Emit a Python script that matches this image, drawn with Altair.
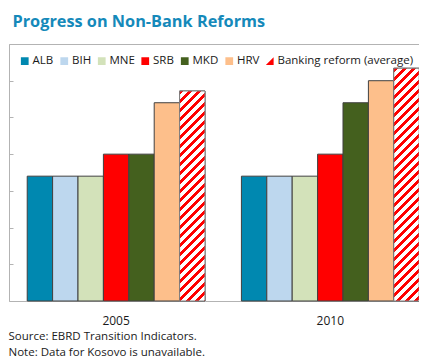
import altair as alt
import pandas as pd

years = ["2005", "2010"]
countries = ["ALB", "BIH", "MNE", "SRB", "MKD", "HRV", "Banking reform (average)"]
values_2005 = [1.7, 1.7, 1.7, 2.0, 2.0, 2.7, 2.86]
values_2010 = [1.7, 1.7, 1.7, 2.0, 2.7, 3.0, 3.17]
colors = ["#0088B0", "#BDD7EE", "#D3E2BA", "#FF0000", "#44601E", "#FDBF8B", "#FF0000"]
y_ticks = [0, 0.5, 1.0, 1.5, 2.0, 2.5, 3.0, 3.5]
title_text = "Progress on Non-Bank Reforms"
notes = ["Source: EBRD Transition Indicators.", "Note: Data for Kosovo is unavailable."]
BANK = countries[-1]

rows = []
for yr, vals in zip(years, [values_2005, values_2010]):
    for c, v in zip(countries, vals):
        rows.append({"year": yr, "country": c, "value": v})
df = pd.DataFrame(rows)

W, H = 410, 257
Y_MAX = 3.5
X_RANGE = 428.4
P_IN, P_OUT = 0.17, 0.085
step = X_RANGE / (len(years) - P_IN + 2 * P_OUT)
bar_w = step * (1 - P_IN) / len(countries)


def stripe_gradient(value, period=9.0, red_frac=0.47):
    h = value / Y_MAX * H
    w = bar_w
    ext = h + w
    stops = []
    k = 0
    while k * period < ext:
        a = min(1.0, k * period / ext)
        b = min(1.0, (k * period + red_frac * period) / ext)
        c = min(1.0, (k + 1) * period / ext)
        stops += [alt.GradientStop(color="#FF0000", offset=a),
                  alt.GradientStop(color="#FF0000", offset=b),
                  alt.GradientStop(color="#FFFFFF", offset=b),
                  alt.GradientStop(color="#FFFFFF", offset=c)]
        k += 1
    r = w / h
    s = (r + 1) / (r * r + 1)
    return alt.Gradient(gradient="linear", stops=stops, x1=0, y1=0, x2=s * r, y2=s)


tri_path = "M-1,-1L1,-1L1,1L-1,1Z M-1,-1L-1,1L1,-1Z"
shapes = ["square"] * 6 + [tri_path]

legend = alt.Legend(
    title=None, orient="none", legendX=10, legendY=11, direction="horizontal",
    columns=7, columnPadding=4.5, symbolSize=60, symbolStrokeColor="#404040",
    symbolStrokeWidth=0.8, symbolOpacity=1,
    labelFont="Open Sans", labelFontSize=11.5, labelColor="#1a1a1a",
    labelOffset=2, padding=0, rowPadding=0,
)

x_scale = alt.Scale(domain=years, range=[0, X_RANGE], paddingInner=P_IN, paddingOuter=P_OUT)
xo_scale = alt.Scale(domain=countries, paddingInner=0, paddingOuter=0)
y_scale = alt.Scale(domain=[0, Y_MAX], nice=False, zero=True)
fill_scale = alt.Scale(domain=countries, range=colors)
shape_scale = alt.Scale(domain=countries, range=shapes)

base = alt.Chart(df)

bars = base.mark_bar(stroke="#404040", strokeWidth=1).encode(
    x=alt.X("year:N", scale=x_scale, axis=alt.Axis(
        orient="bottom", domain=True, domainColor="#b3b3b3", ticks=False, tickSize=0,
        labels=True, labelAngle=0, labelFont="Open Sans", labelFontSize=12,
        labelColor="#1a1a1a", labelPadding=14.5,
        title=notes, titleAnchor="start", titleAlign="left", titleX=-1, titleY=38,
        titleBaseline="alphabetic", titleFont="Open Sans", titleFontSize=11.5,
        titleFontWeight="normal", titleColor="#1a1a1a", titleLineHeight=16.5)),
    xOffset=alt.XOffset("country:N", scale=xo_scale, sort=countries),
    y=alt.Y("value:Q", scale=y_scale, axis=alt.Axis(
        orient="right", offset=-W, domain=True, domainColor="#b3b3b3",
        ticks=True, tickColor="#b3b3b3", tickSize=4, values=y_ticks,
        labels=False, grid=False, title=None)),
    fill=alt.Fill("country:N", scale=fill_scale, legend=legend, sort=countries),
)

def stripe_layer(yr, vals, xaxis):
    return base.transform_filter(
        (alt.datum.country == BANK) & (alt.datum.year == yr)
    ).mark_bar(stroke="#808080", strokeWidth=1, fill=stripe_gradient(vals[-1])).encode(
        x=alt.X("year:N", scale=x_scale, axis=xaxis),
        xOffset=alt.XOffset("country:N", scale=xo_scale, sort=countries),
        y=alt.Y("value:Q", scale=y_scale, axis=None),
    )

inner_tick_axis = alt.Axis(orient="top", offset=-H, domain=False, ticks=True,
                           tickBand="extent", tickSize=5, tickColor="#cccccc",
                           labels=False, title=None, grid=False)
s2005 = stripe_layer(years[0], values_2005, inner_tick_axis)
s2010 = stripe_layer(years[1], values_2010, None)

points = base.mark_point(filled=True, opacity=0, size=1).encode(
    x=alt.X("year:N", scale=x_scale, axis=alt.Axis(
        orient="top", domain=True, domainColor="#b3b3b3", ticks=False,
        labels=False, title=None, grid=False)),
    xOffset=alt.XOffset("country:N", scale=xo_scale, sort=countries),
    y=alt.Y("value:Q", scale=y_scale, axis=None),
    fill=alt.Fill("country:N", scale=fill_scale, legend=legend, sort=countries),
    shape=alt.Shape("country:N", scale=shape_scale, legend=legend, sort=countries),
)

chart = alt.layer(bars, s2005, s2010, points).resolve_axis(
    x="independent", y="independent"
).properties(
    width=W, height=H,
    autosize=alt.AutoSizeParams(type="none"),
    padding={"left": 1, "top": 36, "right": 0, "bottom": 57},
    title=alt.TitleParams(title_text, anchor="start", frame="group", font="Open Sans",
                          fontSize=16.3, fontWeight="bold", color="#1589BA",
                          dx=3.5, offset=0, baseline="alphabetic"),
    background="white",
).configure_view(stroke=None)

chart.save("out.html", embed_options={"renderer": "svg", "actions": False})
